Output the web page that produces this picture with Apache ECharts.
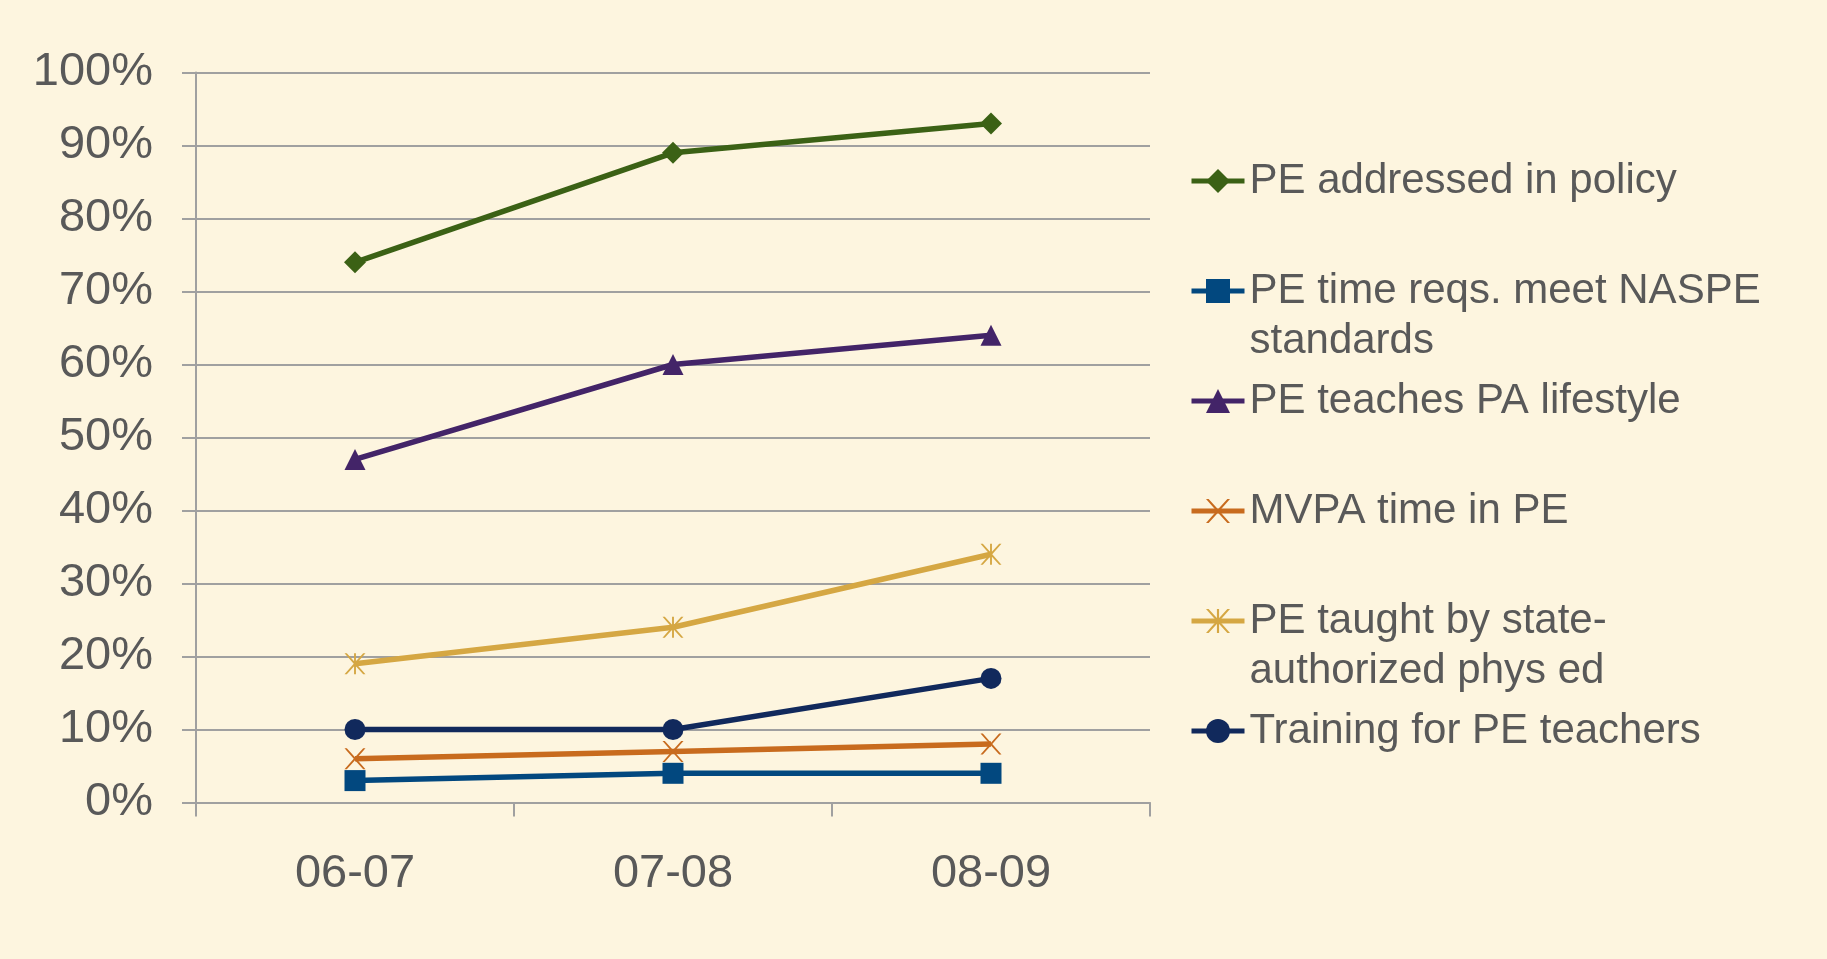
<!DOCTYPE html>
<html>
<head>
<meta charset="utf-8">
<script src="https://cdn.jsdelivr.net/npm/echarts@6/dist/echarts.min.js"></script>
<style>
html,body{margin:0;padding:0;background:#FDF5DF;}
#chart{width:1827px;height:959px;}
</style>
</head>
<body>
<div id="chart"></div>
<script>
const categories = ['06-07', '07-08', '08-09'];
const seriesNames = [
  'PE addressed in policy',
  'PE time reqs. meet NASPE standards',
  'PE teaches PA lifestyle',
  'MVPA time in PE',
  'PE taught by state-authorized phys ed',
  'Training for PE teachers'
];
const legendLabels = [
  'PE addressed in policy',
  ' \nPE time reqs. meet NASPE\nstandards',
  'PE teaches PA lifestyle',
  'MVPA time in PE',
  ' \nPE taught by state-\nauthorized phys ed',
  'Training for PE teachers'
];
const peAddressed = [74, 89, 93];
const peTimeReqs = [3, 4, 4];
const peTeachesPA = [47, 60, 64];
const mvpaTime = [6, 7, 8];
const peTaughtBy = [19, 24, 34];
const trainingPE = [10, 10, 17];
const yTicks = [0, 10, 20, 30, 40, 50, 60, 70, 80, 90, 100];

const seriesData = [peAddressed, peTimeReqs, peTeachesPA, mvpaTime, peTaughtBy, trainingPE];
const colors = ['#3B6115', '#02487F', '#432468', '#C86B1E', '#D5A743', '#11295C'];
const xPath = 'path://M0,0 L2.2,0 L10,8.6 L17.8,0 L20,0 L11.2,10 L20,20 L17.8,20 L10,11.4 L2.2,20 L0,20 L8.8,10 Z';
const starPath = 'path://M0,0 L2.2,0 L10,8.6 L17.8,0 L20,0 L11.2,10 L20,20 L17.8,20 L10,11.4 L2.2,20 L0,20 L8.8,10 Z M9.1,0 L10.9,0 L10.9,20 L9.1,20 Z';
const symbols = ['diamond', 'rect', 'triangle', xPath, starPath, 'circle'];
const symbolSizes = [22, 21, 21, 21, 21, 21];
const legendCenters = [181, 291, 401, 511, 621, 731];
const twoLine = [false, true, false, false, true, false];

const FONT = "'Liberation Sans', Arial, sans-serif";
const TXT = '#595959';

const chart = echarts.init(document.getElementById('chart'));

const legends = seriesNames.map((name, i) => ({
  orient: 'vertical',
  left: 1189,
  top: legendCenters[i] - (twoLine[i] ? 75 : 25),
  padding: 0,
  itemWidth: 53,
  itemHeight: 30,
  itemGap: 0,
  selectedMode: false,
  formatter: () => legendLabels[i],
  lineStyle: { width: 5 },
  textStyle: { fontFamily: FONT, fontSize: 42, color: TXT, lineHeight: 50 },
  data: [{ name: name }]
}));

chart.setOption({
  backgroundColor: '#FDF5DF',
  animation: false,
  legend: legends,
  grid: { left: 196, right: 677, top: 72.5, bottom: 156.5, containLabel: false },
  xAxis: {
    type: 'category',
    data: categories,
    boundaryGap: true,
    axisLine: { show: true, lineStyle: { color: '#A0A0A0', width: 2 } },
    axisTick: { show: true, length: 14, alignWithLabel: false, lineStyle: { color: '#A0A0A0', width: 2 } },
    axisLabel: { fontFamily: FONT, fontSize: 47, color: TXT, margin: 48 },
    splitLine: { show: false }
  },
  yAxis: {
    type: 'value',
    min: 0, max: 100, interval: 10,
    axisLine: { show: true, lineStyle: { color: '#A0A0A0', width: 2 } },
    axisTick: { show: true, length: 14, lineStyle: { color: '#A0A0A0', width: 2 } },
    axisLabel: {
      fontFamily: FONT, fontSize: 47, color: TXT, margin: 43,
      padding: [6, 0, 0, 0],
      formatter: v => (yTicks.indexOf(v) >= 0 ? v + '%' : '')
    },
    splitLine: { show: true, lineStyle: { color: '#A0A0A0', width: 2 } }
  },
  series: seriesNames.map((name, i) => ({
    name: name,
    type: 'line',
    data: seriesData[i],
    color: colors[i],
    symbol: symbols[i],
    symbolSize: symbolSizes[i],
    showAllSymbol: true,
    lineStyle: { width: 5.5, color: colors[i] },
    itemStyle: { color: colors[i] }
  }))
});
</script>
</body>
</html>
